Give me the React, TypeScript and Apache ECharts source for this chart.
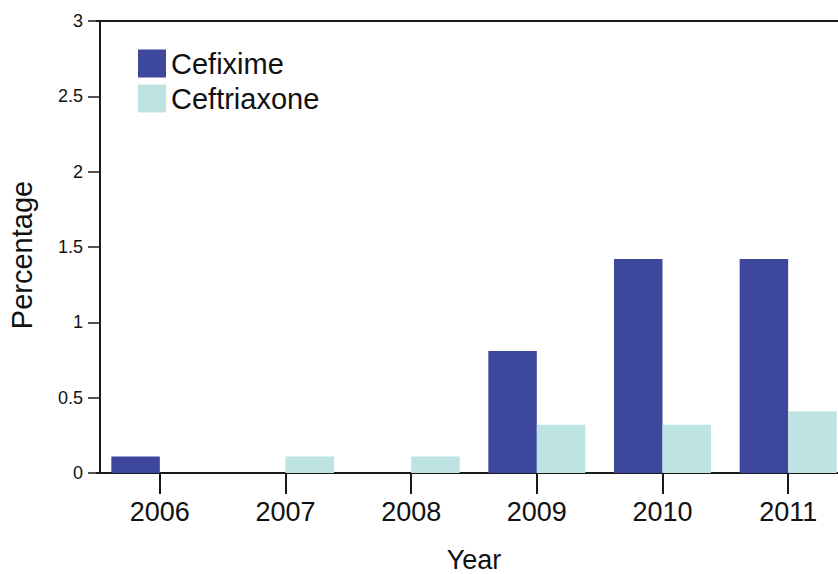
import React, { useEffect, useRef } from "react";
import * as echarts from "echarts";

const years = ["2006", "2007", "2008", "2009", "2010", "2011"];
const cefixime = [0.11, 0, 0, 0.81, 1.42, 1.42];
const ceftriaxone = [0, 0.11, 0.11, 0.32, 0.32, 0.41];
const yTicks = { min: 0, max: 3, interval: 0.5 };

const FONT = "'Liberation Sans', Arial, Helvetica, sans-serif";
const AXIS_COLOR = "#1a1a1a";

export default function App() {
  const ref = useRef<HTMLDivElement>(null);
  useEffect(() => {
    if (!ref.current) return;
    const chart = echarts.init(ref.current, undefined, { renderer: "svg" });
    chart.setOption({
      animation: false,
      backgroundColor: "#ffffff",
      textStyle: { fontFamily: FONT, color: "#111" },
      grid: {
        left: 97,
        top: 21,
        bottom: 101,
        width: 754,
        containLabel: false,
        outerBoundsMode: "none",
      },
      legend: {
        orient: "vertical",
        left: 138,
        top: 49,
        itemWidth: 28,
        itemHeight: 28,
        itemGap: 6,
        icon: "rect",
        padding: 0,
        textStyle: {
          fontSize: 29,
          fontFamily: FONT,
          color: "#111",
          lineHeight: 22,
          padding: [6, 0, 0, 0],
        },
        data: ["Cefixime", "Ceftriaxone"],
      },
      xAxis: [
        {
          type: "category",
          data: years,
          position: "bottom",
          name: "Year",
          nameLocation: "middle",
          nameGap: 73,
          nameTextStyle: { fontSize: 27, lineHeight: 27, fontFamily: FONT, color: "#111" },
          axisLine: { show: true, lineStyle: { color: AXIS_COLOR, width: 2 } },
          axisTick: {
            show: true,
            alignWithLabel: true,
            length: 21,
            lineStyle: { color: AXIS_COLOR, width: 2 },
          },
          axisLabel: { fontSize: 27, margin: 25, color: "#111", fontFamily: FONT },
          splitLine: { show: false },
        },
        {
          type: "category",
          data: years,
          position: "top",
          axisLine: { show: true, lineStyle: { color: AXIS_COLOR, width: 2 } },
          axisTick: { show: false },
          axisLabel: { show: false },
          splitLine: { show: false },
        },
      ],
      yAxis: {
        type: "value",
        min: yTicks.min,
        max: yTicks.max,
        interval: yTicks.interval,
        offset: -3,
        name: "Percentage",
        nameLocation: "middle",
        nameGap: 64,
        nameTextStyle: { fontSize: 29, fontFamily: FONT, color: "#111", padding: [0, 16, 0, 0] },
        axisLine: { show: true, lineStyle: { color: AXIS_COLOR, width: 2 } },
        axisTick: { show: true, length: 12, lineStyle: { color: AXIS_COLOR, width: 1.5 } },
        axisLabel: { fontSize: 18, margin: 17, color: "#111", fontFamily: FONT },
        splitLine: { show: false },
      },
      series: [
        {
          name: "Cefixime",
          type: "bar",
          data: cefixime,
          itemStyle: { color: "#3d479c" },
          barGap: "0%",
          barCategoryGap: "22.8%",
        },
        {
          name: "Ceftriaxone",
          type: "bar",
          data: ceftriaxone,
          itemStyle: { color: "#bde4e3" },
          barGap: "0%",
          barCategoryGap: "22.8%",
        },
      ],
    });
    return () => chart.dispose();
  }, []);
  return (
    <div
      ref={ref}
      style={{ position: "fixed", left: 0, top: 0, width: 838, height: 574, background: "#fff" }}
    />
  );
}
